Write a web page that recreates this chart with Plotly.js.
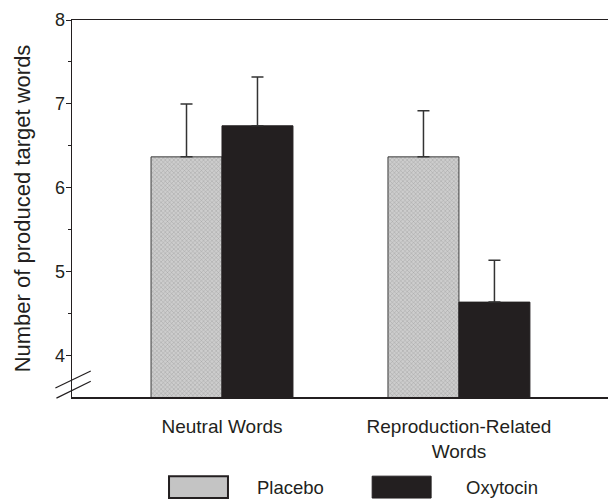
<!DOCTYPE html>
<html>
<head>
<meta charset="utf-8">
<script src="https://cdn.plot.ly/plotly-3.0.1.min.js"></script>
<style>html,body{margin:0;padding:0;background:#fff;}#chart{width:608px;height:500px;}</style>
</head>
<body>
<div id="chart"></div>
<script>
const categories = ["Neutral Words", "Reproduction-Related<br>Words"];
const seriesNames = ["Placebo", "Oxytocin"];
const placeboMeans = [6.37, 6.37];
const placeboErrors = [0.63, 0.55];
const oxytocinMeans = [6.74, 4.64];
const oxytocinErrors = [0.58, 0.50];
const yTickVals = [4, 5, 6, 7, 8];
const yTickText = ["4", "5", "6", "7", "8"];

const ink = "#231f20";
const xIdx = categories.map((_, i) => i);

const traces = [
  {
    type: "bar", name: seriesNames[0], x: xIdx, y: placeboMeans,
    marker: {
      color: "#c6c6c6",
      line: {color: "#3a3a3a", width: 1},
      pattern: {shape: "x", fgcolor: "#9c9c9c", bgcolor: "#cdcdcd", size: 3, solidity: 0.25}
    },
    error_y: {type: "data", array: placeboErrors, symmetric: false, arrayminus: [0, 0], color: "#333333", thickness: 1.5, width: 6},
    showlegend: false, hoverinfo: "skip"
  },
  {
    type: "bar", name: seriesNames[1], x: xIdx, y: oxytocinMeans,
    marker: {color: ink, line: {color: ink, width: 1}},
    error_y: {type: "data", array: oxytocinErrors, symmetric: false, arrayminus: [0, 0], color: "#333333", thickness: 1.5, width: 6},
    showlegend: false, hoverinfo: "skip"
  }
];

const fam = "Liberation Sans, Arial, sans-serif";

const layout = {
  width: 608, height: 500,
  margin: {l: 72, r: 0, t: 20, b: 103},
  paper_bgcolor: "#ffffff", plot_bgcolor: "#ffffff",
  font: {family: fam, color: ink},
  barmode: "group", bargap: 0.401, bargroupgap: 0,
  showlegend: false,
  xaxis: {
    range: [-0.633, 1.629],
    tickmode: "array", tickvals: xIdx, ticktext: categories,
    ticks: "", showgrid: false, zeroline: false,
    showline: true, linecolor: ink, linewidth: 1.5, mirror: true,
    tickfont: {family: fam, size: 19, color: ink},
    ticklabelstandoff: 12,
    fixedrange: true
  },
  yaxis: {
    range: [3.51, 8],
    tickmode: "array", tickvals: yTickVals, ticktext: yTickText,
    ticks: "outside", ticklen: 5, tickwidth: 1, tickcolor: ink,
    minor: {dtick: 0.5, tick0: 0, ticks: "outside", ticklen: 3, tickwidth: 1, tickcolor: ink, showgrid: false},
    showgrid: false, zeroline: false,
    showline: true, linecolor: ink, linewidth: 1.5,
    tickfont: {family: fam, size: 18, color: ink},
    ticklabelstandoff: -3,
    title: {text: "Number of produced target words", font: {family: fam, size: 22, color: ink}, standoff: 18},
    fixedrange: true
  },
  shapes: [
    // axis break marks
    {type: "line", xref: "paper", yref: "paper", x0: -0.031, y0: 0.024, x1: 0.035, y1: 0.069, line: {color: ink, width: 1.2}},
    {type: "line", xref: "paper", yref: "paper", x0: -0.029, y0: -0.003, x1: 0.035, y1: 0.042, line: {color: ink, width: 1.2}},
    // legend swatches
    {type: "rect", xref: "paper", yref: "paper", x0: 0.181, x1: 0.291, y0: -0.268, y1: -0.210, fillcolor: "#c4c4c4", line: {color: ink, width: 2}},
    {type: "rect", xref: "paper", yref: "paper", x0: 0.560, x1: 0.670, y0: -0.268, y1: -0.210, fillcolor: ink, line: {color: ink, width: 1}}
  ],
  annotations: [
    {xref: "paper", yref: "paper", x: 0.341, y: -0.241, xanchor: "left", yanchor: "middle", text: seriesNames[0], showarrow: false, font: {family: fam, size: 18.5, color: ink}},
    {xref: "paper", yref: "paper", x: 0.731, y: -0.241, xanchor: "left", yanchor: "middle", text: seriesNames[1], showarrow: false, font: {family: fam, size: 18.5, color: ink}}
  ]
};

Plotly.newPlot("chart", traces, layout, {staticPlot: true, displayModeBar: false});
</script>
</body>
</html>
